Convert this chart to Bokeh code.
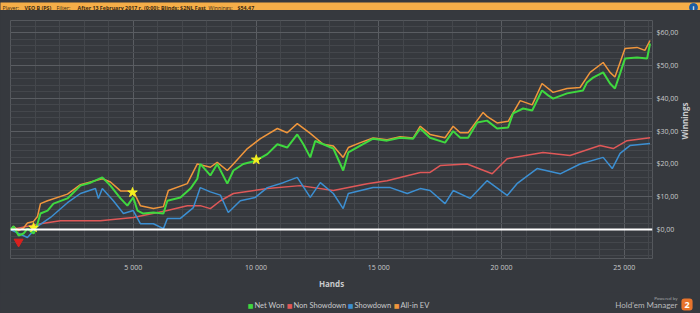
import math
from bokeh.plotting import figure
from bokeh.models import Span, Label, FixedTicker, Range1d
from bokeh.layouts import column
from bokeh.embed import file_html
from bokeh.resources import INLINE

# ---------------- data ----------------
net_hands = [0, 120, 330, 530, 690, 940, 1100, 1220, 1510, 1750, 2320, 2850, 3260, 3740, 4070, 4480,
             4760, 5000, 5170, 5410, 5820, 6230, 6390, 6920, 7330, 7610, 7730, 8140, 8420, 8830, 9080,
             9480, 10000, 10460, 10870, 11270, 11680, 11930, 12210, 12410, 12740, 13150, 13550, 13760,
             14250, 14770, 15340, 15870, 16400, 16690, 17090, 17700, 18030, 18320, 18640, 19010, 19410,
             19820, 20270, 20470, 20880, 21250, 21650, 21900, 22100, 22670, 23320, 23480, 23730, 24140,
             24420, 24620, 24830, 25030, 25520, 25930, 26050]
net_won = [0, 1.0, -1.8, -1.2, 0.3, -1.2, 1.8, 4.9, 5.8, 7.9, 9.5, 13.4, 14.3, 15.9, 13.4, 9.5,
           7.3, 9.8, 5.8, 4.9, 5.2, 4.9, 8.8, 9.8, 12.5, 15.5, 20.0, 16.5, 20.0, 14.0, 18.0,
           20.0, 21.0, 23.0, 26.0, 25.0, 29.0, 26.0, 22.0, 27.0, 26.0, 24.7, 18.0, 23.5,
           25.6, 27.7, 27.1, 28.0, 27.7, 30.8, 28.0, 26.5, 30.0, 28.0, 28.0, 32.6, 33.2,
           30.8, 31.1, 35.4, 36.9, 36.3, 42.4, 40.9, 39.9, 41.5, 42.4, 44.8, 46.3, 47.9,
           44.5, 43.0, 47.6, 52.1, 52.4, 52.1, 56.7]

ev_hands = [0, 120, 330, 530, 690, 940, 1100, 1220, 1510, 2320, 2850, 3740, 4070, 4480, 5000, 5290,
            5820, 6230, 6430, 7200, 7610, 8140, 8420, 8830, 9080, 9650, 10180, 10870, 11270, 11680,
            12210, 12740, 13150, 13550, 13760, 14250, 14770, 15340, 15870, 16400, 16690, 17090, 17700,
            18030, 18320, 18640, 19250, 19410, 19820, 20270, 20760, 21250, 21650, 22100, 22670, 23200,
            23610, 24140, 24420, 24620, 25030, 25520, 25840, 26050]
allin_ev = [0, 1.0, -0.3, 0.5, 2.0, 2.5, 4.0, 7.9, 8.8, 10.8, 13.7, 15.5, 14.5, 11.8, 11.8, 7.3,
            6.4, 7.0, 11.9, 14.0, 20.0, 19.0, 20.5, 18.0, 20.0, 24.7, 27.7, 30.8, 29.5, 32.3,
            29.3, 26.0, 25.5, 22.0, 25.0, 26.5, 27.9, 27.4, 28.3, 27.9, 31.5, 29.0, 28.0,
            31.5, 29.5, 29.5, 35.7, 34.5, 32.5, 33.0, 39.3, 38.0, 44.5, 41.8, 43.0, 43.3,
            47.9, 50.9, 47.9, 46.5, 55.2, 55.5, 54.6, 57.6]

ns_hands = [0, 1220, 2035, 3660, 5000, 6390, 7200, 7730, 8140, 8550, 9080, 10460, 11800, 13150,
            14530, 15340, 16690, 17090, 17500, 18600, 19620, 20230, 21690, 22790, 24010, 24550,
            25110, 26050]
non_showdown = [0, 1.8, 2.7, 2.7, 3.7, 5.8, 7.3, 7.3, 6.4, 8.8, 11.0, 12.5, 13.4, 11.9,
                14.0, 14.9, 17.4, 17.4, 19.5, 20.0, 17.0, 21.6, 23.5, 22.6, 25.6, 24.7,
                27.1, 28.0]

sd_hands = [0, 690, 1100, 1630, 2320, 2850, 3460, 3580, 3740, 4190, 4600, 5000, 5290, 5820, 6230,
            6390, 6920, 7450, 7730, 8140, 8550, 8870, 9360, 9970, 10460, 11110, 11680, 12210, 12620,
            13150, 13550, 13760, 14770, 15470, 16160, 16690, 17090, 17700, 18030, 18720, 19410,
            20230, 20630, 21450, 22390, 23200, 24140, 24510, 24830, 25230, 26050]
showdown = [0, -2.4, 1.0, 3.7, 8.2, 11.0, 12.5, 9.5, 12.5, 8.8, 4.9, 5.8, 1.8, 1.8, 0.3,
            3.4, 3.4, 6.7, 12.8, 11.5, 10.5, 5.2, 8.8, 9.8, 12.8, 14.3, 15.9, 9.8, 14.3,
            11.0, 6.4, 11.0, 12.8, 12.8, 11.0, 12.5, 11.9, 7.9, 11.9, 9.5, 14.9,
            10.4, 14.0, 18.6, 17.0, 20.0, 22.0, 18.6, 23.2, 25.6, 26.2]

star_hands = [940, 4970, 10010]
star_vals = [0.6, 11.3, 21.3]
low_hands = [330]
low_vals = [-3.7]

x_ticks = [5000, 10000, 15000, 20000, 25000]
x_tick_labels = ["5 000", "10 000", "15 000", "20 000", "25 000"]
y_ticks = [0, 10, 20, 30, 40, 50, 60]
y_tick_labels = ["$0,00", "$10,00", "$20,00", "$30,00", "$40,00", "$50,00", "$60,00"]

series_names = ["Net Won", "Non Showdown", "Showdown", "All-in EV"]
series_colors = ["#3fd83f", "#e05858", "#3c8fd2", "#f0963c"]

FONT = "Open Sans"
LFONT = "Lato"
BG = "#36393e"
TXT = "#c9cacc"


def screen_label(fig, x, y, text, **kw):
    fig.add_layout(Label(x=x, y=y, x_units="screen", y_units="screen", text=text, **kw))


def no_align(fig):
    try:
        fig.frame_align = False
    except Exception:
        pass


# ---------------- header ----------------
h = figure(width=700, height=10, x_range=Range1d(0, 700), y_range=Range1d(0, 10),
           x_axis_type=None, y_axis_type=None, min_border=0, toolbar_location=None,
           output_backend="svg", background_fill_color="#f5ae48", border_fill_color="#f5ae48",
           outline_line_color=None)
no_align(h)
header_parts = [("Player:", 2, "normal"), ("VEO B (PS)", 24, "bold"), ("Filter:", 56, "normal"),
                ("After 13 February 2017 r. (0:00); Blinds: $2NL Fast", 77, "bold"),
                ("Winnings:", 208, "normal"), ("$54,47", 237, "bold")]
for txt, xx, st in header_parts:
    screen_label(h, xx, 5, txt, text_font=FONT, text_font_size="5.3px", text_font_style=st,
                 text_color="#3b2a12", text_baseline="middle")
h.scatter([693], [5], marker="circle", size=8, color="#1d5ea3")
screen_label(h, 693, 5, "i", text_font=FONT, text_font_size="6px", text_font_style="bold",
             text_color="white", text_align="center", text_baseline="middle")

# ---------------- main chart ----------------
p = figure(width=700, height=282, x_range=Range1d(0, 26150), y_range=Range1d(-8.8, 63.7),
           y_axis_location="right", output_backend="svg", toolbar_location=None,
           min_border_left=10, min_border_right=48, min_border_top=10, min_border_bottom=34,
           background_fill_color=BG, border_fill_color=BG, outline_line_color="#55585d")
no_align(p)

p.xaxis.ticker = FixedTicker(ticks=x_ticks, minor_ticks=list(range(0, 27000, 1000)))
p.xaxis.major_label_overrides = dict(zip(x_ticks, x_tick_labels))
p.yaxis.ticker = FixedTicker(ticks=y_ticks, minor_ticks=list(range(-8, 64, 2)))
p.yaxis.major_label_overrides = dict(zip(y_ticks, y_tick_labels))
for ax in (p.xaxis, p.yaxis):
    ax.axis_line_color = None
    ax.major_tick_line_color = None
    ax.minor_tick_line_color = None
    ax.major_tick_out = 0
    ax.major_tick_in = 0
    ax.minor_tick_out = 0
    ax.minor_tick_in = 0
    ax.major_label_text_color = TXT
    ax.major_label_text_font = FONT
    ax.major_label_text_font_size = "7px"
    ax.major_label_standoff = 4
    ax.axis_label_text_color = TXT
    ax.axis_label_text_font = FONT
    ax.axis_label_text_font_size = "8px"
    ax.axis_label_text_font_style = "bold"
    ax.axis_label_standoff = 3
p.xaxis.axis_label = "Hands"
p.yaxis.axis_label = "Winnings"
try:
    p.yaxis.axis_label_orientation = math.pi / 2
except Exception:
    pass

p.xgrid.grid_line_color = "#5a5d62"
p.ygrid.grid_line_color = "#5a5d62"
p.xgrid.minor_grid_line_color = "#44474c"
p.ygrid.minor_grid_line_color = "#44474c"

p.add_layout(Span(location=0, dimension="width", line_color="white", line_width=2))

p.line(ns_hands, non_showdown, line_color=series_colors[1], line_width=1.5)
p.line(sd_hands, showdown, line_color=series_colors[2], line_width=1.5)
p.line(ev_hands, allin_ev, line_color=series_colors[3], line_width=1.5)
p.line(net_hands, net_won, line_color=series_colors[0], line_width=2)

p.scatter(low_hands, low_vals, marker="inverted_triangle", size=9, color="#d9201e")
p.scatter(star_hands, star_vals, marker="star", size=10, color="#f5f020")

# ---------------- footer (legend + logo) ----------------
f = figure(width=700, height=21, x_range=Range1d(0, 700), y_range=Range1d(0, 21),
           x_axis_type=None, y_axis_type=None, min_border=0, toolbar_location=None,
           output_backend="svg", background_fill_color=BG, border_fill_color=BG,
           outline_line_color=None)
no_align(f)
leg_sq_x = [250, 289, 350, 396]
leg_tx_x = [254, 293, 354, 400]
for name, col, sx, tx in zip(series_names, series_colors, leg_sq_x, leg_tx_x):
    screen_label(f, sx, 8, "■", text_font="DejaVu Sans", text_font_size="6px", text_color=col,
                 text_align="center", text_baseline="middle")
    screen_label(f, tx, 8, name, text_font=LFONT, text_font_size="7.5px", text_color=TXT,
                 text_baseline="middle")

screen_label(f, 677, 15, "Powered by", text_font=LFONT, text_font_size="4.5px",
             text_color="#a0a2a5", text_align="right", text_baseline="middle")
screen_label(f, 677, 8.5, "Hold'em Manager", text_font=LFONT, text_font_size="8px",
             text_color="#b8babc", text_align="right", text_baseline="middle")
screen_label(f, 686.5, 9, "2", text_font=FONT, text_font_size="9px", text_font_style="bold",
             text_color="white", text_align="center", text_baseline="middle",
             background_fill_color="#e8742c", padding=3, border_radius=3)

layout = column(h, p, f, spacing=0, styles={"background-color": BG})
html = file_html(layout, INLINE)
html = html.replace("<body>", '<body style="margin:0;background-color:%s;">' % BG, 1)
open("out.html", "w").write(html)
